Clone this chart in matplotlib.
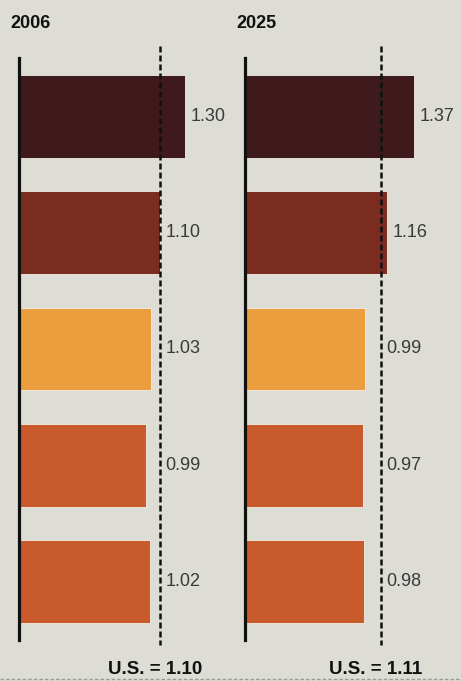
import matplotlib
matplotlib.use('Agg')
import matplotlib.pyplot as plt
from matplotlib.lines import Line2D

# ── Data ─────────────────────────────────────────────────────────────────────
years      = ['2006', '2025']
values_06  = [1.30, 1.10, 1.03, 0.99, 1.02]
values_25  = [1.37, 1.16, 0.99, 0.97, 0.98]
us_values  = [1.10, 1.11]

BAR_COLOURS = ['#3E1A1C', '#7A2C20', '#EA9E3E', '#C85A2C', '#C85A2C']
BG          = '#DDDCD5'
FONT        = ['Liberation Sans Narrow', 'Liberation Sans', 'DejaVu Sans']

W, H = 461, 681
fig = plt.figure(figsize=(W / 100, H / 100), dpi=100)
fig.patch.set_facecolor(BG)

PX_PER_UNIT = 128
# (left edge px, values, x-axis start)
panels = [(19, values_06, 0.0), (245, values_25, 0.05)]

for i, (left_px, vals, x0) in enumerate(panels):
    ax = fig.add_axes([left_px / W, 41 / H, 200 / W, 582 / H])
    ax.set_facecolor('none')
    ypos = list(range(len(vals)))
    ax.barh(ypos, vals, height=0.71, color=BAR_COLOURS,
            edgecolor='#F2EFE8', linewidth=0.6, zorder=2)
    ax.set_xlim(x0, x0 + 200 / PX_PER_UNIT)
    ax.set_ylim(4.5, -0.5)

    for s in ['top', 'right', 'bottom']:
        ax.spines[s].set_visible(False)
    ax.spines['left'].set_linewidth(2.3)
    ax.spines['left'].set_color('#111111')
    ax.set_xticks([])
    ax.set_yticks([])

    # U.S. reference line
    us = us_values[i]
    ax.plot([us, us], [-0.6, 4.54], color='#111111', lw=1.8,
            dashes=(2.4, 1.2), clip_on=False, zorder=3)

    # value labels
    for y, v in zip(ypos, vals):
        ax.annotate(f'{v:.2f}', xy=(max(v, us), y), xytext=(4, 0),
                    textcoords='offset points', va='center', ha='left',
                    fontsize=13, family=FONT, color='#3A3A3A')

    # panel title
    fig.text((left_px - 9) / W, 1 - 23 / H, years[i], fontsize=13,
             fontweight='bold', family=FONT, color='#111111',
             ha='left', va='center')

    # U.S. caption, centred just left of the reference line
    us_px = left_px + (us - x0) * PX_PER_UNIT
    fig.text((us_px - 5) / W, 1 - 670 / H, f'U.S. = {us:.2f}',
             fontsize=13.5, fontweight='bold', family=FONT,
             color='#111111', ha='center', va='center')

# dashed rule at the bottom
fig.add_artist(Line2D([0, 1], [1 - 679 / H, 1 - 679 / H], transform=fig.transFigure,
                      color='#9A9A9A', lw=1.0, dashes=(2.5, 1.5)))

fig.savefig('out.png', dpi=100, facecolor=fig.get_facecolor())
